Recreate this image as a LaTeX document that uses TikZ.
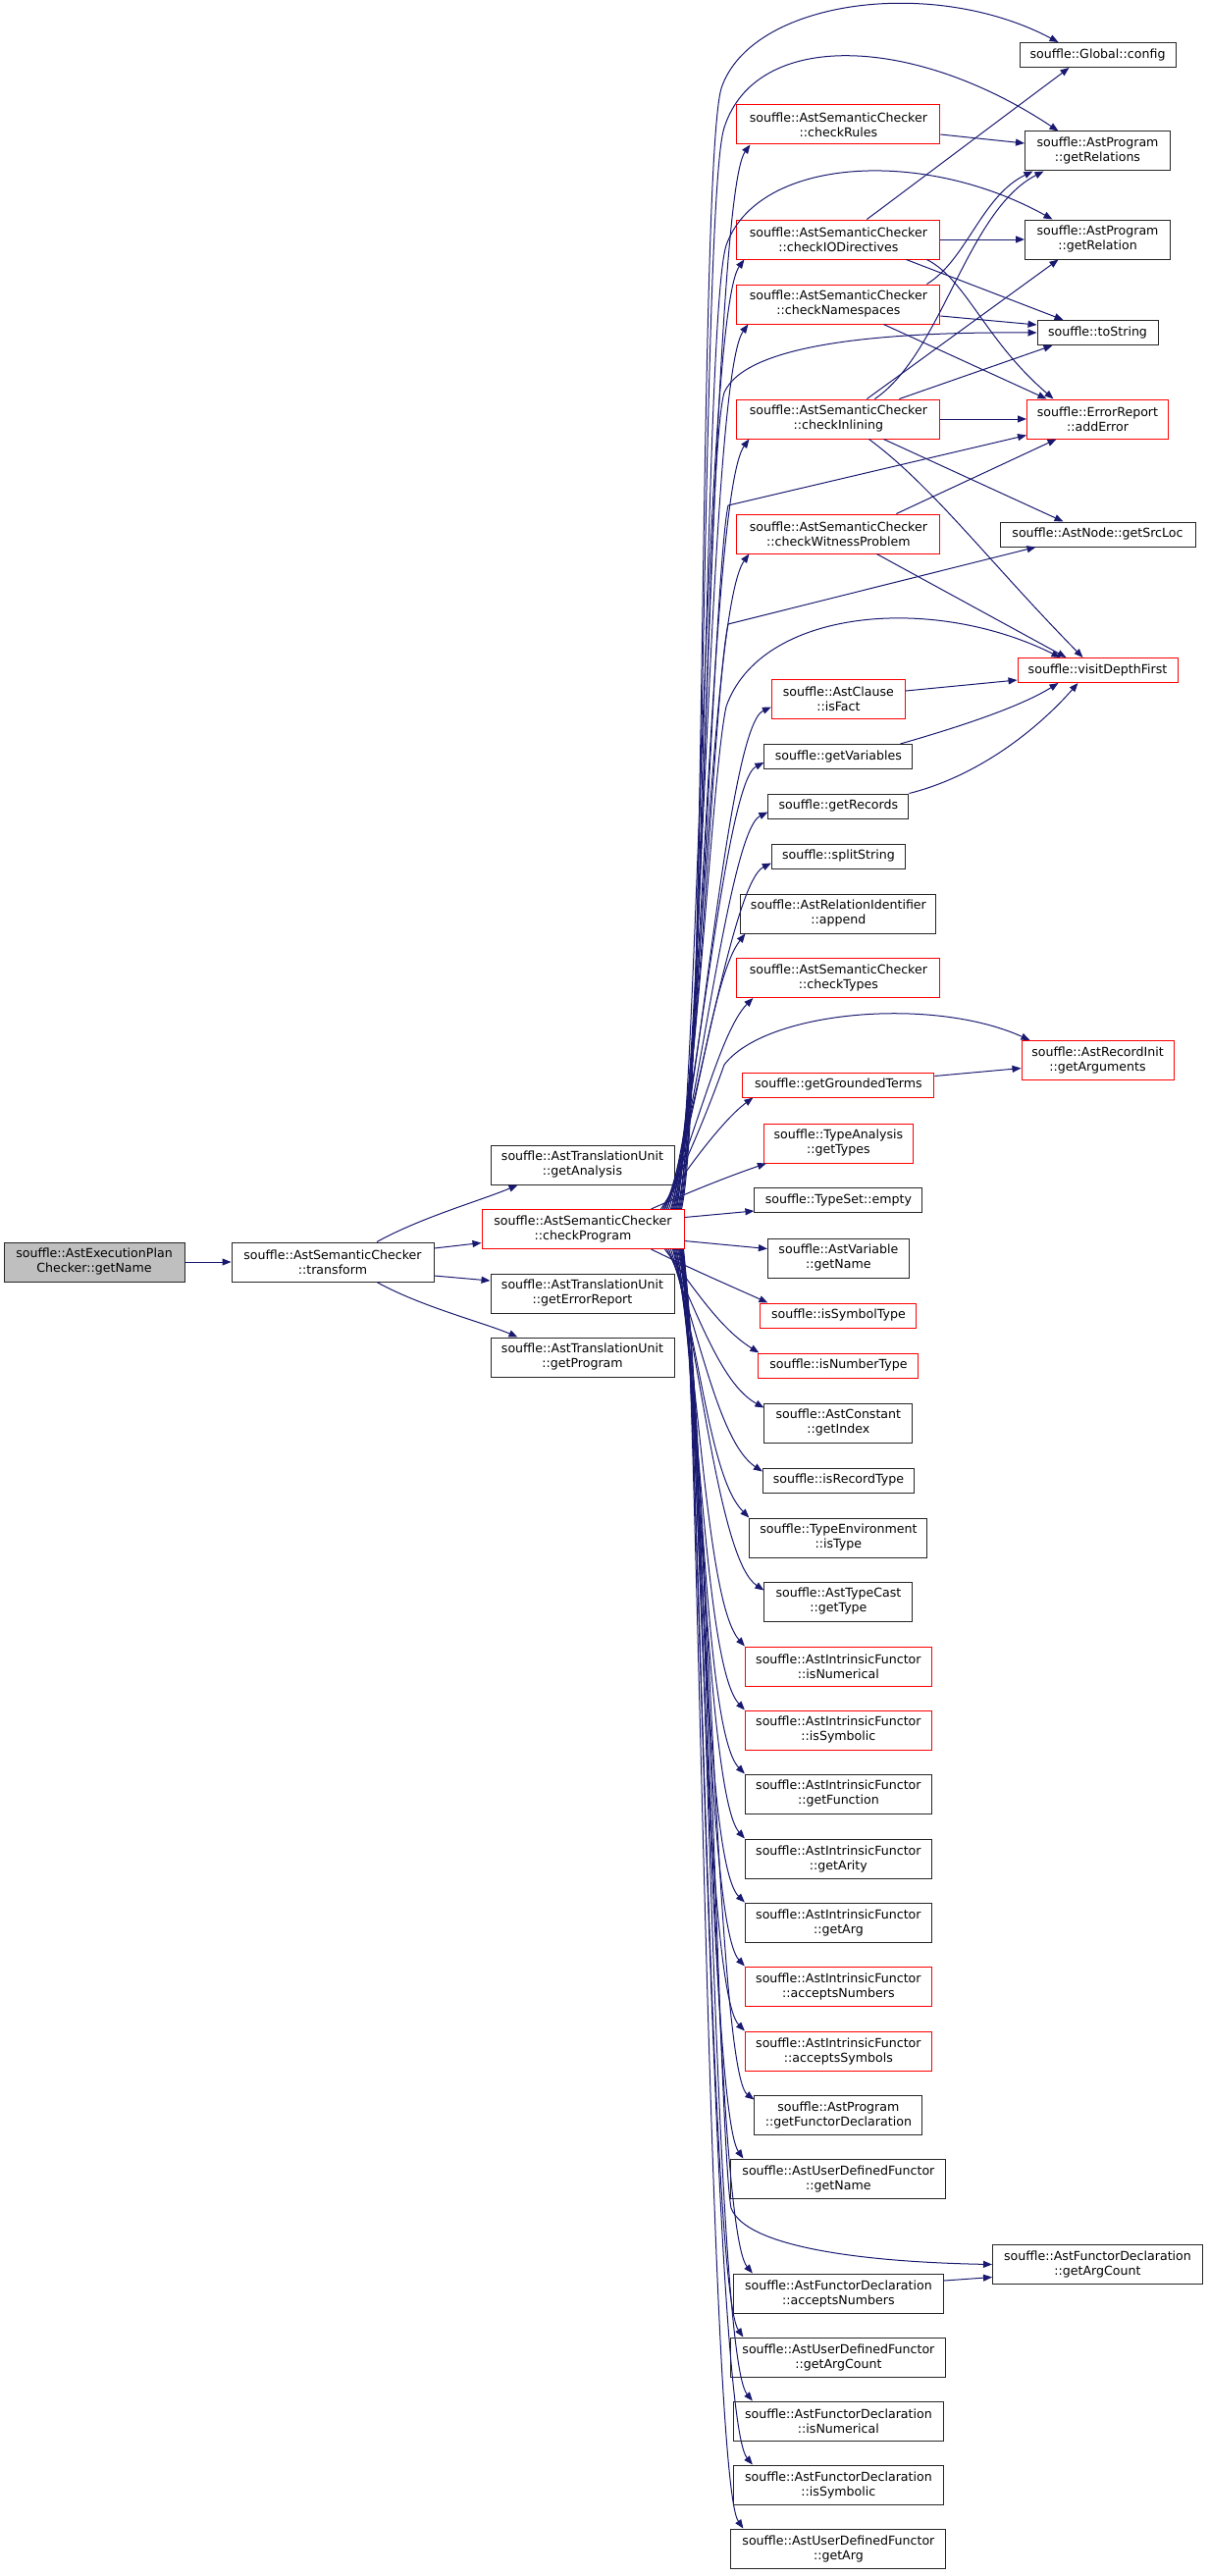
\documentclass[tikz,border=0pt]{standalone}
\usepackage{fontspec}
\setmainfont{DejaVu Sans}
\usepackage{tikz}
\usetikzlibrary{arrows.meta}
\definecolor{navy}{HTML}{191970}
\newcommand{\fnsize}{\fontsize{12.6}{15}\selectfont}

\begin{document}
\begin{tikzpicture}[x=1pt, y=-1pt, >={Triangle[length=9pt,width=7pt]},
  fun/.style={draw=black!85, fill=white, line width=1pt, inner sep=0pt, align=center,
    minimum height=40pt, font=\fnsize},
  one/.style={fun, minimum height=25pt},
  hot/.style={draw=red},
  root/.style={fill=black!25},
  call/.style={->, draw=navy, line width=1pt}]
\useasboundingbox (0,0) rectangle (1231,2625);

% caller chain
\node[fun, root, minimum width=184pt] (gn) at (96,1286) {souffle::AstExecutionPlan\\Checker::getName};
\node[fun, minimum width=206pt] (tr) at (339,1286) {souffle::AstSemanticChecker\\::transform};
\node[fun, minimum width=187pt] (ga) at (593.5,1187) {souffle::AstTranslationUnit\\::getAnalysis};
\node[fun, hot, minimum width=206pt] (cp) at (594,1252.5) {souffle::AstSemanticChecker\\::checkProgram};
\node[fun, minimum width=187pt] (ger) at (593.5,1318) {souffle::AstTranslationUnit\\::getErrorReport};
\node[fun, minimum width=187pt] (gp) at (593.5,1383) {souffle::AstTranslationUnit\\::getProgram};

% callees of checkProgram
\node[fun, hot, minimum width=207pt] (cr) at (854.4,127) {souffle::AstSemanticChecker\\::checkRules};
\node[fun, hot, minimum width=207pt] (cio) at (854.4,244) {souffle::AstSemanticChecker\\::checkIODirectives};
\node[fun, hot, minimum width=207pt] (cns) at (854.4,310) {souffle::AstSemanticChecker\\::checkNamespaces};
\node[fun, hot, minimum width=207pt] (cin) at (854.4,427) {souffle::AstSemanticChecker\\::checkInlining};
\node[fun, hot, minimum width=207pt] (cwp) at (854.4,544) {souffle::AstSemanticChecker\\::checkWitnessProblem};
\node[fun, hot, minimum width=136pt] (isf) at (854.4,712) {souffle::AstClause\\::isFact};
\node[one, minimum width=151pt] (gv) at (854.4,771) {souffle::getVariables};
\node[one, minimum width=143pt] (grc) at (854.4,821.5) {souffle::getRecords};
\node[one, minimum width=136pt] (ss) at (854.4,872.5) {souffle::splitString};
\node[fun, minimum width=199pt] (app) at (854.4,931) {souffle::AstRelationIdentifier\\::append};
\node[fun, hot, minimum width=207pt] (ct) at (854.4,996.5) {souffle::AstSemanticChecker\\::checkTypes};
\node[one, hot, minimum width=195pt] (ggt) at (854.4,1105.5) {souffle::getGroundedTerms};
\node[fun, hot, minimum width=152pt] (gty) at (854.4,1165) {souffle::TypeAnalysis\\::getTypes};
\node[one, minimum width=171pt] (tse) at (854.4,1223) {souffle::TypeSet::empty};
\node[fun, minimum width=144pt] (avn) at (854.4,1282) {souffle::AstVariable\\::getName};
\node[one, hot, minimum width=159pt] (ist) at (854.4,1340.5) {souffle::isSymbolType};
\node[one, hot, minimum width=163pt] (int) at (854.4,1391.5) {souffle::isNumberType};
\node[fun, minimum width=151pt] (gix) at (854.4,1450) {souffle::AstConstant\\::getIndex};
\node[one, minimum width=154pt] (irt) at (854.4,1508.5) {souffle::isRecordType};
\node[fun, minimum width=181pt] (ity) at (854.4,1567) {souffle::TypeEnvironment\\::isType};
\node[fun, minimum width=151pt] (gtp) at (854.4,1632) {souffle::AstTypeCast\\::getType};
\node[fun, hot, minimum width=190pt] (ifn) at (854.4,1698) {souffle::AstIntrinsicFunctor\\::isNumerical};
\node[fun, hot, minimum width=190pt] (ifs) at (854.4,1763) {souffle::AstIntrinsicFunctor\\::isSymbolic};
\node[fun, minimum width=190pt] (iff) at (854.4,1828) {souffle::AstIntrinsicFunctor\\::getFunction};
\node[fun, minimum width=190pt] (ifa) at (854.4,1894) {souffle::AstIntrinsicFunctor\\::getArity};
\node[fun, minimum width=190pt] (ifg) at (854.4,1959) {souffle::AstIntrinsicFunctor\\::getArg};
\node[fun, hot, minimum width=190pt] (ifan) at (854.4,2024) {souffle::AstIntrinsicFunctor\\::acceptsNumbers};
\node[fun, hot, minimum width=190pt] (ifas) at (854.4,2090) {souffle::AstIntrinsicFunctor\\::acceptsSymbols};
\node[fun, minimum width=171pt] (gfd) at (854.4,2155) {souffle::AstProgram\\::getFunctorDeclaration};
\node[fun, minimum width=219pt] (udn) at (854.4,2220) {souffle::AstUserDefinedFunctor\\::getName};
\node[fun, minimum width=214pt] (fdan) at (854.4,2337) {souffle::AstFunctorDeclaration\\::acceptsNumbers};
\node[fun, minimum width=219pt] (udac) at (854.4,2402) {souffle::AstUserDefinedFunctor\\::getArgCount};
\node[fun, minimum width=214pt] (fdin) at (854.4,2467) {souffle::AstFunctorDeclaration\\::isNumerical};
\node[fun, minimum width=214pt] (fdis) at (854.4,2532) {souffle::AstFunctorDeclaration\\::isSymbolic};
\node[fun, minimum width=219pt] (udga) at (854.4,2597) {souffle::AstUserDefinedFunctor\\::getArg};

% leaves
\node[one, minimum width=159pt] (cfg) at (1118.5,56) {souffle::Global::config};
\node[fun, minimum width=148pt] (grs) at (1118.5,154) {souffle::AstProgram\\::getRelations};
\node[fun, minimum width=148pt] (grl) at (1118.5,244) {souffle::AstProgram\\::getRelation};
\node[one, minimum width=123pt] (tos) at (1118.5,339) {souffle::toString};
\node[fun, hot, minimum width=144pt] (ae) at (1118.5,427) {souffle::ErrorReport\\::addError};
\node[one, minimum width=199pt] (gsl) at (1118.5,544.5) {souffle::AstNode::getSrcLoc};
\node[one, hot, minimum width=163pt] (vdf) at (1118.5,683) {souffle::visitDepthFirst};
\node[fun, hot, minimum width=155pt] (gar) at (1118.5,1080.5) {souffle::AstRecordInit\\::getArguments};
\node[fun, minimum width=214pt] (fdac) at (1118.5,2307.5) {souffle::AstFunctorDeclaration\\::getArgCount};

% root and transform
\draw[call] (gn) -- (tr);
\draw[call] ([xshift=45pt]tr.north) .. controls +(45,-25) and +(-35,15) .. ([xshift=-66pt]ga.south);
\draw[call] ([yshift=14pt]tr.east) -- ([yshift=-14pt]cp.west);
\draw[call] ([yshift=-14pt]tr.east) -- ([yshift=13pt]ger.west);
\draw[call] ([xshift=45pt]tr.south) .. controls +(45,25) and +(-35,-15) .. ([xshift=-66pt]gp.north);

% checkProgram, upward
\draw[call] ([xshift=-3pt]cp.north east) .. controls +(25,-110) and (712,170) .. (735,90) .. controls (765,0) and (950,-25) .. ([xshift=-40pt]cfg.north);
\draw[call] ([xshift=-4pt]cp.north east) .. controls +(25,-110) and (715,200) .. (738,130) .. controls (770,30) and (930,35) .. ([xshift=-40pt]grs.north);
\draw[call] ([xshift=-5pt]cp.north east) .. controls +(25,-110) and (718,320) .. (740,250) .. controls (772,160) and (940,150) .. ([xshift=-46pt]grl.north);
\draw[call] ([xshift=-7pt]cp.north east) .. controls +(25,-110) and (720,460) .. (738,400) .. controls (760,350) and (900,338) .. (tos.west);
\draw[call] ([xshift=-9pt]cp.north east) .. controls +(25,-110) and (728,580) .. (742,515) -- ([yshift=4pt]ae.south west);
\draw[call] ([xshift=-11pt]cp.north east) .. controls +(25,-110) and (728,700) .. (742,636) -- ([xshift=37pt]gsl.south west);
\draw[call] ([xshift=-13pt]cp.north east) .. controls +(25,-100) and (725,790) .. (740,720) .. controls (775,620) and (950,605) .. ([xshift=-38pt]vdf.north);
\draw[call] ([xshift=-22pt]cp.north east) .. controls +(25,-50) and (722,1130) .. (738,1085) .. controls (780,1030) and (950,1015) .. ([xshift=-69pt]gar.north);
\draw[call] ([xshift=-6pt]cp.north east) .. controls +(25,-110) and +(-40,55) .. ([xshift=14pt]cr.south west);
\draw[call] ([xshift=-8pt]cp.north east) .. controls +(22,-110) and +(-40,55) .. ([xshift=8pt]cio.south west);
\draw[call] ([xshift=-10pt]cp.north east) .. controls +(28,-110) and +(-40,55) .. ([xshift=12pt]cns.south west);
\draw[call] ([xshift=-12pt]cp.north east) .. controls +(30,-100) and +(-40,55) .. ([xshift=13pt]cin.south west);
\draw[call] ([xshift=-14pt]cp.north east) .. controls +(30,-100) and +(-40,55) .. ([xshift=13pt]cwp.south west);
\draw[call] ([xshift=-16pt]cp.north east) .. controls +(30,-90) and +(-45,20) .. ([yshift=12pt]isf.south west);
\draw[call] ([xshift=-18pt]cp.north east) .. controls +(30,-90) and +(-40,20) .. ([yshift=7pt]gv.south west);
\draw[call] ([xshift=-18pt]cp.north east) .. controls +(30,-80) and +(-40,20) .. ([yshift=7pt]grc.south west);
\draw[call] ([xshift=-20pt]cp.north east) .. controls +(30,-80) and +(-40,20) .. ([yshift=6pt]ss.south west);
\draw[call] ([xshift=-20pt]cp.north east) .. controls +(30,-70) and +(-35,45) .. ([xshift=5pt]app.south west);
\draw[call] ([xshift=-22pt]cp.north east) .. controls +(30,-60) and +(-35,35) .. ([xshift=17pt]ct.south west);
\draw[call] ([xshift=-24pt]cp.north east) .. controls +(25,-40) and +(-30,22) .. ([xshift=11pt]ggt.south west);
\draw[call] ([xshift=-34pt]cp.north east) .. controls +(45,-20) and +(-35,12) .. ([xshift=3pt]gty.south west);

% checkProgram, sideways
\draw[call] ([yshift=12pt]cp.east) -- ([yshift=2pt]tse.south west);
\draw[call] ([yshift=-12pt]cp.east) -- ([yshift=-11pt]avn.north west);

% checkProgram, downward
\draw[call] ([xshift=-34pt]cp.south east) .. controls +(45,22) and +(-40,-18) .. ([xshift=8pt]ist.north west);
\draw[call] ([xshift=-20pt]cp.south east) .. controls +(30,40) and +(-40,-25) .. ([xshift=1pt]int.north west);
\draw[call] ([xshift=-18pt]cp.south east) .. controls +(30,60) and +(-45,-25) .. ([yshift=-5pt]gix.north west);
\draw[call] ([xshift=-16pt]cp.south east) .. controls +(30,80) and +(-45,-30) .. ([yshift=-4pt]irt.north west);
\draw[call] ([xshift=-14pt]cp.south east) .. controls +(30,100) and +(-40,-40) .. (ity.north west);
\draw[call] ([xshift=-12pt]cp.south east) .. controls +(28,110) and +(-45,-30) .. ([yshift=-9pt]gtp.north west);
\draw[call] ([xshift=-11pt]cp.south east) .. controls +(26,110) and +(-40,-45) .. (ifn.north west);
\draw[call] ([xshift=-10pt]cp.south east) .. controls +(24,110) and +(-42,-45) .. (ifs.north west);
\draw[call] ([xshift=-9pt]cp.south east) .. controls +(26,110) and +(-44,-45) .. (iff.north west);
\draw[call] ([xshift=-8pt]cp.south east) .. controls +(22,110) and +(-40,-45) .. (ifa.north west);
\draw[call] ([xshift=-7pt]cp.south east) .. controls +(26,110) and +(-46,-45) .. (ifg.north west);
\draw[call] ([xshift=-6pt]cp.south east) .. controls +(24,110) and +(-42,-45) .. (ifan.north west);
\draw[call] ([xshift=-5pt]cp.south east) .. controls +(22,110) and +(-44,-45) .. (ifas.north west);
\draw[call] ([xshift=-5pt]cp.south east) .. controls +(26,110) and +(-40,-30) .. ([yshift=-5pt]gfd.north west);
\draw[call] ([xshift=-4pt]cp.south east) .. controls +(20,110) and +(-35,-50) .. ([xshift=13pt]udn.north west);
\draw[call] ([xshift=-4pt]cp.south east) .. controls +(25,110) and (732,2180) .. (745,2250) .. controls (760,2290) and (880,2305) .. (fdac.west);
\draw[call] ([xshift=-3pt]cp.south east) .. controls +(24,110) and +(-42,-50) .. ([xshift=20pt]fdan.north west);
\draw[call] ([xshift=-3pt]cp.south east) .. controls +(18,110) and +(-35,-50) .. ([xshift=13pt]udac.north west);
\draw[call] ([xshift=-2pt]cp.south east) .. controls +(22,110) and +(-42,-50) .. ([xshift=20pt]fdin.north west);
\draw[call] ([xshift=-2pt]cp.south east) .. controls +(16,110) and +(-42,-50) .. ([xshift=20pt]fdis.north west);
\draw[call] ([xshift=-1pt]cp.south east) .. controls +(14,110) and +(-35,-50) .. ([xshift=13pt]udga.north west);

% calls between callees
\draw[call] ([yshift=-10pt]cr.east) -- ([yshift=8pt]grs.west);
\draw[call] ([xshift=29pt]cio.north) -- ([xshift=-29pt]cfg.south);
\draw[call] (cio.east) -- (grl.west);
\draw[call] ([xshift=69pt]cio.south) -- ([xshift=-35pt]tos.north);
\draw[call] ([xshift=90pt]cio.south) .. controls +(40,20) and +(-70,-60) .. ([xshift=-45pt]ae.north);
\draw[call] ([xshift=90pt]cns.north) .. controls (985,265) and (1000,200) .. ([xshift=-66pt]grs.south);
\draw[call] ([yshift=-12pt]cns.east) -- ([yshift=8pt]tos.west);
\draw[call] ([xshift=46pt]cns.south) -- ([xshift=-52pt]ae.north);
\draw[call] ([xshift=37pt]cin.north) .. controls (960,360) and (985,215) .. ([xshift=-55pt]grs.south);
\draw[call] ([xshift=29pt]cin.north) -- ([xshift=-40pt]grl.south);
\draw[call] ([xshift=62pt]cin.north) -- ([xshift=-46pt]tos.south);
\draw[call] (cin.east) -- (ae.west);
\draw[call] ([xshift=46pt]cin.south) -- ([xshift=-35pt]gsl.north);
\draw[call] ([xshift=31pt]cin.south) .. controls (950,495) and (1010,575) .. ([xshift=-15pt]vdf.north);
\draw[call] ([xshift=59pt]cwp.north) -- ([xshift=-42pt]ae.south);
\draw[call] ([xshift=39pt]cwp.south) -- ([xshift=-32pt]vdf.north);
\draw[call] ([yshift=8pt]isf.east) -- ([yshift=-10pt]vdf.west);
\draw[call] ([xshift=63pt]gv.north) .. controls (980,740) and (1040,720) .. ([xshift=-40pt]vdf.south);
\draw[call] (grc.north east) .. controls (1000,790) and (1060,740) .. ([xshift=-20pt]vdf.south);
\draw[call] ([yshift=9pt]ggt.east) -- ([yshift=-8pt]gar.west);
\draw[call] ([yshift=13pt]fdan.east) -- ([yshift=-13pt]fdac.west);
\end{tikzpicture}
\end{document}
